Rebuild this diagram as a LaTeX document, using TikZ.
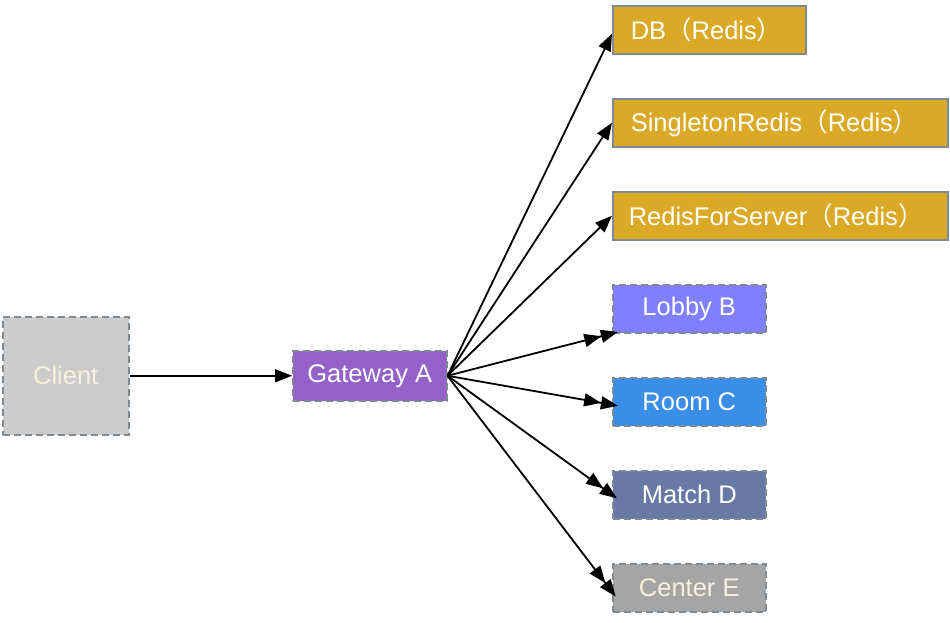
\documentclass[tikz,border=0pt]{standalone}
\usepackage{fontspec}
\setmainfont{Liberation Sans}
\newfontfamily\cjk{Noto Sans CJK SC}
\usetikzlibrary{arrows.meta}
\definecolor{gold}{HTML}{DAAA27}
\definecolor{clientfill}{HTML}{CCCCCC}
\definecolor{gatefill}{HTML}{9461C9}
\definecolor{lobbyfill}{HTML}{7F7FFF}
\definecolor{roomfill}{HTML}{3B8EE8}
\definecolor{matchfill}{HTML}{6879A6}
\definecolor{centerfill}{HTML}{A5A5A5}
\definecolor{bordergray}{HTML}{7E8A92}
\definecolor{cream}{HTML}{F5F0DC}
\tikzset{
  box/.style={draw=bordergray, line width=1.5pt, inner sep=0pt, anchor=north west, text=white,
    font=\fontsize{25.5}{29}\selectfont},
  dbox/.style={box, dash pattern=on 7pt off 4pt},
  redisbox/.style={box, fill=gold, text=white},
  conn/.style={line width=1.8pt, -{Triangle[length=17pt,width=13pt]}},
  dconn/.style={line width=1.8pt, -{Triangle[length=17pt,width=13pt]Triangle[length=17pt,width=13pt,sep=-6pt]}},
}
\begin{document}
\begin{tikzpicture}[x=1pt,y=-1pt]
\useasboundingbox (0,0) rectangle (950,622);
\node[dbox, fill=clientfill, text=cream, minimum width=126pt, minimum height=118pt] (client) at (2,316) {Client};
\node[dbox, fill=gatefill, minimum width=154pt, minimum height=50pt] (gate) at (292,350) {Gateway A};
\node[redisbox, minimum width=193pt, minimum height=48pt, text width=173pt, align=left] (db) at (612,5) {\hspace*{8pt}DB{\cjk （}Redis{\cjk ）}};
\node[redisbox, minimum width=335pt, minimum height=48pt, text width=315pt, align=left] (single) at (612,98) {\hspace*{8pt}SingletonRedis{\cjk （}Redis{\cjk ）}};
\node[redisbox, minimum width=335pt, minimum height=48pt, text width=315pt, align=left] (rfs) at (612,191) {\hspace*{6pt}RedisForServer{\cjk （}Redis{\cjk ）}};
\node[dbox, fill=lobbyfill, minimum width=153pt, minimum height=48pt] (lobby) at (612,284) {Lobby B};
\node[dbox, fill=roomfill, minimum width=153pt, minimum height=48pt] (room) at (612,377) {Room C};
\node[dbox, fill=matchfill, minimum width=153pt, minimum height=48pt] (match) at (612,470) {Match D};
\node[dbox, fill=centerfill, text=cream, minimum width=153pt, minimum height=48pt] (center) at (612,563) {Center E};

\draw[conn] (client.east) -- (gate.west);
\draw[conn] (gate.east) -- ([yshift=-4pt]db.west);
\draw[conn] (gate.east) -- (single.west);
\draw[conn] (gate.east) -- (rfs.west);
\draw[dconn] (gate.east) -- (lobby.south west);
\draw[dconn] (gate.east) -- ([yshift=-3pt]room.west);
\draw[dconn] (gate.east) -- (match.west);
\draw[dconn] (gate.east) -- ([yshift=-4pt]center.west);
\end{tikzpicture}
\end{document}
